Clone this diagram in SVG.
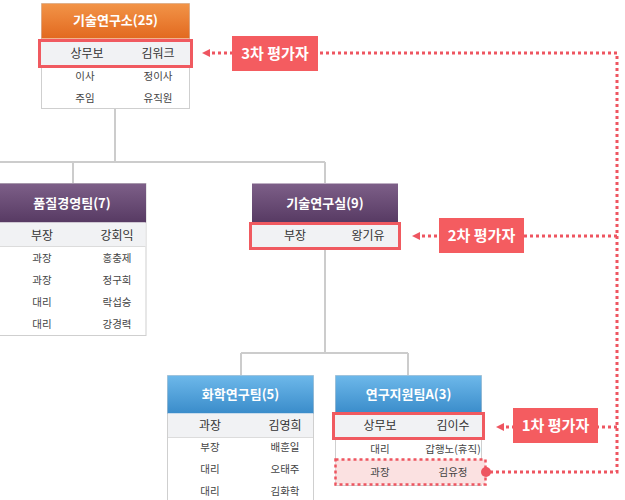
<svg xmlns="http://www.w3.org/2000/svg" width="625" height="500" viewBox="0 0 625 500">
<defs>
<linearGradient id="gOrange" x1="0" y1="0" x2="0" y2="1"><stop offset="0" stop-color="#f29448"/><stop offset="1" stop-color="#e2691f"/></linearGradient>
<linearGradient id="gPurple" x1="0" y1="0" x2="0" y2="1"><stop offset="0" stop-color="#7d5f88"/><stop offset="1" stop-color="#573a63"/></linearGradient>
<linearGradient id="gBlue" x1="0" y1="0" x2="0" y2="1"><stop offset="0" stop-color="#6db8ea"/><stop offset="1" stop-color="#3a8cca"/></linearGradient>
<marker id="arr" markerWidth="8" markerHeight="8" refX="7" refY="4" orient="auto" markerUnits="userSpaceOnUse"><path d="M0,0 L8,4 L0,8 z" fill="#ee5560"/></marker>
<style>
.box{fill:#fff;stroke:#cfcfcf;stroke-width:1}
.hdr{font-family:"Noto Sans CJK KR","Noto Sans",sans-serif;font-size:13px;font-weight:bold;fill:#fff;text-anchor:middle}
.t{font-family:"Noto Sans CJK KR","Noto Sans",sans-serif;font-size:10.5px;fill:#444;text-anchor:middle}
.t1{font-family:"Noto Sans CJK KR","Noto Sans",sans-serif;font-size:12px;fill:#333;text-anchor:middle}
.gray{fill:#f1f2f4}
.sep{stroke:#dcdcdc;stroke-width:1}
.hl{fill:#f1f2f4;stroke:#f05a60;stroke-width:3}
.tree{fill:none;stroke:#cccccc;stroke-width:2}
.dot{fill:none;stroke:#ee5560;stroke-width:3;stroke-dasharray:3 3}
.lbl{fill:#f45c60}
.lt{font-family:"Noto Sans CJK KR","Noto Sans",sans-serif;font-size:15px;font-weight:bold;fill:#fff;text-anchor:middle}
</style>
</defs>
<rect width="625" height="500" fill="#fff"/>
<g id="node-tech-institute">
<rect class="box" x="41.5" y="3.5" width="148" height="105"/>
<rect x="41.5" y="3.5" width="148" height="35" fill="url(#gOrange)"/>
<text class="hdr" x="115.5" y="25">기술연구소(25)</text>
<rect class="hl" x="39.5" y="40.5" width="152" height="26"/>
<text class="t1" x="87" y="58">상무보</text>
<text class="t1" x="158" y="58">김워크</text>
<text class="t" x="85" y="80">이사</text>
<text class="t" x="158" y="80">정이사</text>
<text class="t" x="85" y="102">주임</text>
<text class="t" x="158" y="102">유직원</text>
</g>
<g id="node-quality">
<rect class="box" x="-2" y="183.5" width="148" height="152"/>
<rect x="-2" y="183.5" width="148" height="39" fill="url(#gPurple)"/>
<text class="hdr" x="72" y="208">품질경영팀(7)</text>
<rect class="gray" x="-1" y="222.5" width="146.5" height="24"/>
<line class="sep" x1="-1" y1="246.5" x2="145.5" y2="246.5"/>
<text class="t1" x="42" y="240">부장</text>
<text class="t1" x="117" y="240">강회익</text>
<text class="t" x="42" y="262">과장</text>
<text class="t" x="117" y="262">홍충제</text>
<text class="t" x="42" y="284">과장</text>
<text class="t" x="117" y="284">정구희</text>
<text class="t" x="42" y="306">대리</text>
<text class="t" x="117" y="306">락섭승</text>
<text class="t" x="42" y="328">대리</text>
<text class="t" x="117" y="328">강경력</text>
</g>
<g id="node-tech-lab">
<rect x="252" y="183.5" width="146" height="39" fill="url(#gPurple)"/>
<text class="hdr" x="325" y="208">기술연구실(9)</text>
<rect class="hl" x="250.5" y="223.5" width="149" height="25"/>
<text class="t1" x="295" y="240">부장</text>
<text class="t1" x="368" y="240">왕기유</text>
</g>
<g id="node-chem">
<rect class="box" x="167.5" y="375.5" width="146" height="130"/>
<rect x="167.5" y="375.5" width="146" height="38" fill="url(#gBlue)"/>
<text class="hdr" x="240.5" y="399">화학연구팀(5)</text>
<rect class="gray" x="168" y="413.5" width="145" height="24"/>
<line class="sep" x1="168" y1="437.5" x2="313" y2="437.5"/>
<text class="t1" x="210" y="430">과장</text>
<text class="t1" x="285" y="430">김영희</text>
<text class="t" x="210" y="451">부장</text>
<text class="t" x="285" y="451">배훈일</text>
<text class="t" x="210" y="473">대리</text>
<text class="t" x="285" y="473">오태주</text>
<text class="t" x="210" y="495">대리</text>
<text class="t" x="285" y="495">김화학</text>
</g>
<g id="node-support">
<rect class="box" x="335.5" y="375.5" width="146" height="110"/>
<rect x="335.5" y="375.5" width="146" height="38" fill="url(#gBlue)"/>
<text class="hdr" x="408.5" y="399">연구지원팀A(3)</text>
<rect class="hl" x="333.5" y="413.5" width="150" height="25"/>
<text class="t1" x="380" y="430">상무보</text>
<text class="t1" x="453" y="430">김이수</text>
<text class="t" x="380" y="453">대리</text>
<text class="t" x="453" y="453">갑행노(휴직)</text>
<rect x="335.5" y="459.5" width="150" height="25" fill="#fbe1e1" stroke="#ee5560" stroke-width="2.5" stroke-dasharray="3 3"/>
<text class="t" x="380" y="476">과장</text>
<text class="t" x="453" y="476">김유정</text>
</g>
<g id="connectors">
<path class="tree" d="M115,109 V162 M0,162 H325 M73,162 V183 M325,162 V183"/>
<path class="tree" d="M325,250 V353 M241,353 H408 M241,353 V375 M408,353 V375"/>
<path class="dot" d="M490,472 H617 V53 H203" marker-end="url(#arr)"/>
<path class="dot" d="M617,236 H413" marker-end="url(#arr)"/>
<path class="dot" d="M617,427 H497" marker-end="url(#arr)"/>
<circle cx="486" cy="472" r="5" fill="#ee5560"/>
</g>
<g id="label-3rd">
<rect class="lbl" x="232" y="36" width="86" height="35"/>
<text class="lt" x="275" y="59">3차 평가자</text>
</g>
<g id="label-2nd">
<rect class="lbl" x="439" y="218" width="85" height="35"/>
<text class="lt" x="481.5" y="241">2차 평가자</text>
</g>
<g id="label-1st">
<rect class="lbl" x="513" y="408" width="85" height="35"/>
<text class="lt" x="555.5" y="431">1차 평가자</text>
</g>
</svg>
